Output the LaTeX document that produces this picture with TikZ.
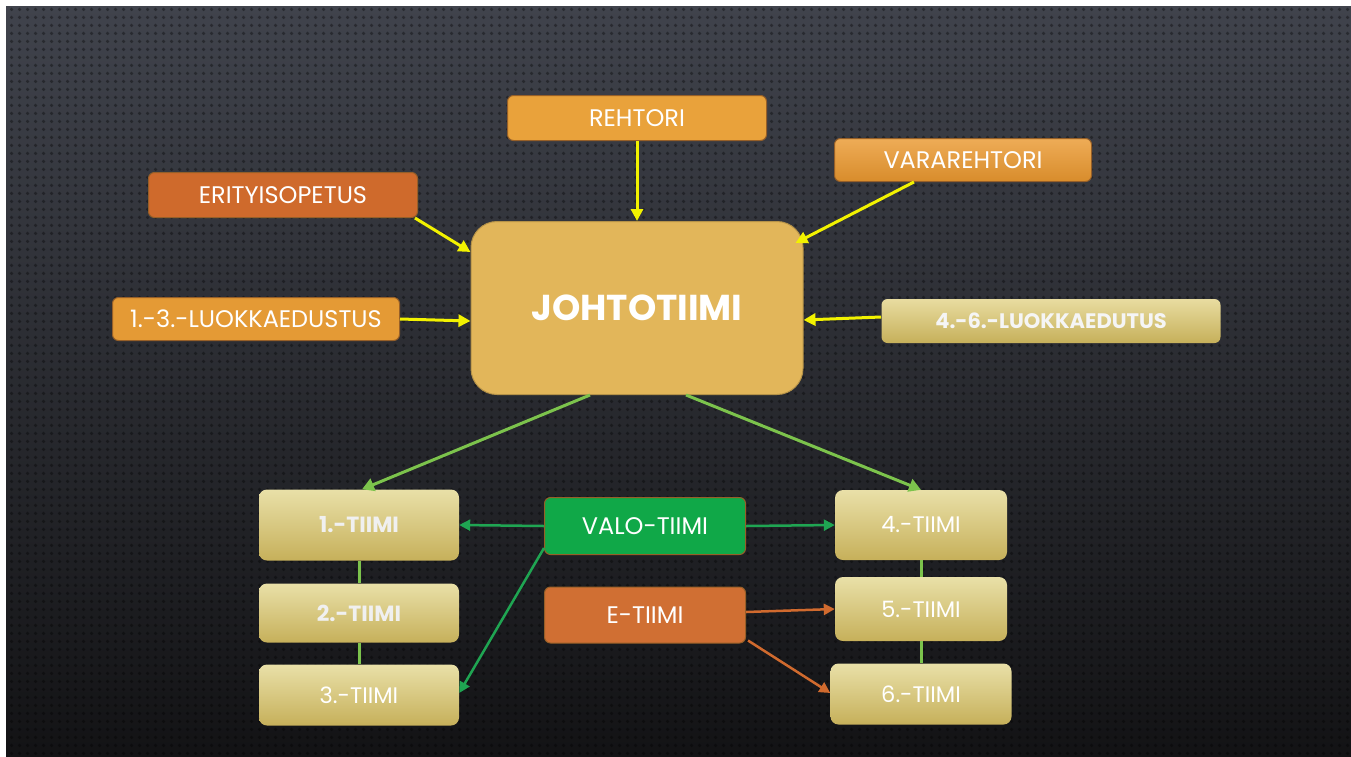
\documentclass[tikz,border=0pt]{standalone}
\usepackage{fontspec}
\setmainfont{Poppins}
\usepackage{tikz}
\usetikzlibrary{arrows.meta,positioning,calc,patterns.meta}
\definecolor{bgtop}{RGB}{64,67,76}
\definecolor{bgbot}{RGB}{18,18,20}
\definecolor{rehtorange}{RGB}{233,162,59}
\definecolor{varatop}{RGB}{238,172,86}
\definecolor{varabot}{RGB}{216,140,44}
\definecolor{erityred}{RGB}{207,106,44}
\definecolor{luokkaorange}{RGB}{228,154,53}
\definecolor{johtogold}{RGB}{226,182,90}
\definecolor{khakitop}{RGB}{233,224,168}
\definecolor{khakibot}{RGB}{198,176,90}
\definecolor{valogreen}{RGB}{16,168,72}
\definecolor{etiimiorange}{RGB}{208,111,51}
\definecolor{boxedge}{RGB}{150,95,40}
\definecolor{arrowyellow}{RGB}{242,242,0}
\definecolor{linkgreen}{RGB}{124,195,76}
\definecolor{valoarrow}{RGB}{31,165,82}
\definecolor{earrow}{RGB}{208,106,46}
\tikzdeclarepattern{
  name=bgdots, type=uncolored,
  bottom left={(0pt,0pt)}, top right={(8pt,8pt)}, tile size={(8pt,8pt)},
  code={\fill (4pt,4pt) circle (2pt);}
}
\tikzset{
  topbox/.style={rounded corners=6pt, draw=boxedge, line width=1pt, text=white,
    inner sep=0pt, font=\fontsize{24}{28}\selectfont},
  tiimibox/.style={rounded corners=8pt, draw=none, top color=khakitop, bottom color=khakibot,
    text=white, inner sep=0pt, font=\fontsize{22.5}{26}\selectfont},
  boldtiimi/.style={tiimibox, text=white!88!gray, font=\bfseries\fontsize{22}{26}\selectfont},
  yarrow/.style={arrowyellow, line width=3pt, -{Triangle[length=12pt,width=12pt]}},
  garrow/.style={linkgreen, line width=3pt, -{Triangle[length=12pt,width=13pt]}},
  varrow/.style={valoarrow, line width=2.5pt, -{Triangle[length=11pt,width=11pt]}},
  oarrow/.style={earrow, line width=2.5pt, -{Triangle[length=11pt,width=11pt]}},
  tlink/.style={linkgreen, line width=3pt}
}
\begin{document}
\begin{tikzpicture}[x=1pt,y=-1pt]
  \useasboundingbox (0,0) rectangle (1351,756);
  % background
  \fill[white] (0,0) rectangle (1351,756);
  \shade[top color=bgtop, bottom color=bgbot] (6,6) rectangle (1362,766);
  \fill[pattern=bgdots, pattern color=black, opacity=0.35] (6,6) rectangle (1362,766);

  % upper boxes
  \node[topbox, fill=rehtorange, minimum width=259pt, minimum height=45pt] (rehtori) at (637,118) {REHTORI};
  \node[topbox, top color=varatop, bottom color=varabot, minimum width=257pt, minimum height=43pt] (vara) at (963,160) {VARAREHTORI};
  \node[topbox, fill=erityred, minimum width=269pt, minimum height=45pt] (erity) at (283,195) {ERITYISOPETUS};
  \node[topbox, fill=luokkaorange, minimum width=287pt, minimum height=43pt] (luokka13) at (256,319) {1.-3.-LUOKKAEDUSTUS};
  \node[topbox, draw=none, top color=khakitop!90!johtogold, bottom color=khakibot, text=white!92!gray,
    minimum width=339pt, minimum height=44pt, font=\bfseries\fontsize{21}{24}\selectfont] (luokka46) at (1051,321) {4.-6.-LUOKKAEDUTUS};
  \node[topbox, fill=johtogold, draw=johtogold!80!black, rounded corners=26pt, minimum width=332pt, minimum height=173pt,
    font=\bfseries\fontsize{36}{40}\selectfont] (johto) at (637,308) {JOHTOTIIMI};

  % team boxes
  \node[boldtiimi, minimum width=200pt, minimum height=71pt] (t1) at (359,525) {1.-TIIMI};
  \node[boldtiimi, minimum width=200pt, minimum height=59pt] (t2) at (359,613) {2.-TIIMI};
  \node[tiimibox, minimum width=200pt, minimum height=61pt] (t3) at (359,695) {3.-TIIMI};
  \node[tiimibox, minimum width=172pt, minimum height=70pt] (t4) at (921,525) {4.-TIIMI};
  \node[tiimibox, minimum width=172pt, minimum height=64pt] (t5) at (921,609) {5.-TIIMI};
  \node[tiimibox, minimum width=181pt, minimum height=61pt] (t6) at (921,694) {6.-TIIMI};
  \node[topbox, fill=valogreen, minimum width=201pt, minimum height=57pt] (valo) at (645,526) {VALO-TIIMI};
  \node[topbox, fill=etiimiorange, minimum width=201pt, minimum height=56pt] (etiimi) at (645,615) {E-TIIMI};

  % arrows into johtotiimi
  \draw[yarrow] (rehtori.south) -- (johto.north);
  \draw[yarrow] ($(vara.south west)!0.31!(vara.south east)$) -- ($(johto.north east)+(-8,22)$);
  \draw[yarrow] ($(erity.south east)+(-3,0)$) -- ($(johto.north west)+(0,31)$);
  \draw[yarrow] (luokka13.east) -- ($(johto.west)+(0,13)$);
  \draw[yarrow] ($(luokka46.west)+(0,-4)$) -- ($(johto.east)+(0,12)$);

  % johtotiimi to teams
  \draw[garrow] ($(johto.south)+(-47,0)$) -- ($(t1.north)+(3,0)$);
  \draw[garrow] ($(johto.south)+(49,0)$) -- (t4.north);

  % team chains
  \draw[tlink] (t1) -- (t2);
  \draw[tlink] (t2) -- (t3);
  \draw[tlink] (t4) -- (t5);
  \draw[tlink] (t5) -- (t6);

  % valo and e teams
  \draw[varrow] (valo.west) -- (t1.east);
  \draw[varrow] (valo.east) -- (t4.west);
  \draw[varrow] ($(valo.south west)+(0,-7)$) -- ($(t3.east)+(0,-2)$);
  \draw[oarrow] ($(etiimi.east)+(0,-3)$) -- (t5.west);
  \draw[oarrow] ($(etiimi.south east)+(2,-3)$) -- ($(t6.west)+(0,-1)$);
\end{tikzpicture}
\end{document}
